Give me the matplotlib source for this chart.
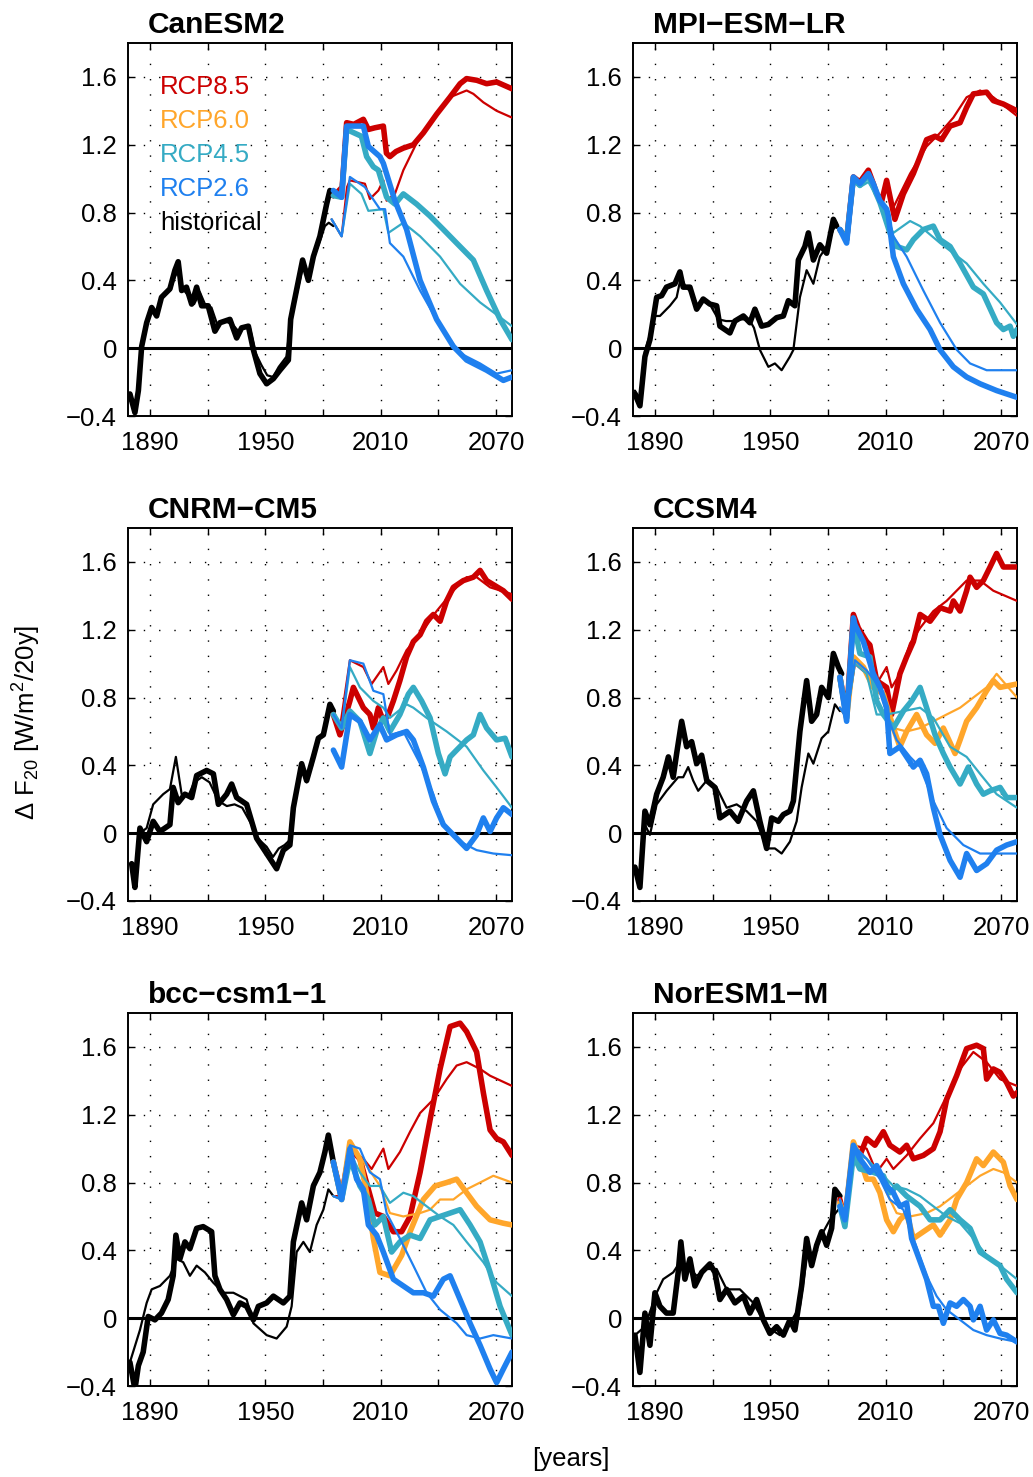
import matplotlib
matplotlib.use('Agg')
import matplotlib.pyplot as plt

plt.rcParams['font.family'] = ['Liberation Sans', 'DejaVu Sans']
plt.rcParams['mathtext.fontset'] = 'custom'
plt.rcParams['mathtext.rm'] = 'Liberation Sans'
plt.rcParams['mathtext.it'] = 'Liberation Sans:italic'
plt.rcParams['axes.unicode_minus'] = True

# ---------------- labels / styles ----------------
MODEL_NAMES = ['CanESM2', 'MPI\u2212ESM\u2212LR', 'CNRM\u2212CM5', 'CCSM4',
               'bcc\u2212csm1\u22121', 'NorESM1\u2212M']
SCENARIOS = ['RCP8.5', 'RCP6.0', 'RCP4.5', 'RCP2.6']
LEGEND_LABELS = ['RCP8.5', 'RCP6.0', 'RCP4.5', 'RCP2.6', 'historical']
COLORS = {'RCP8.5': '#CC0000', 'RCP6.0': '#FFA62B', 'RCP4.5': '#35ABC4',
          'RCP2.6': '#1F80EF', 'historical': '#000000'}
XTICKS = [1890, 1920, 1950, 1980, 2010, 2040, 2070]
XTICK_LABELS = ['1890', '', '1950', '', '2010', '', '2070']
YTICKS = [-0.4, 0.0, 0.4, 0.8, 1.2, 1.6]
YTICK_LABELS = ['\u22120.4', '0', '0.4', '0.8', '1.2', '1.6']

# ---------------- CanESM2 ----------------
CAN_HIST_THICK = [(1879.6,-0.27),(1882.2,-0.38),(1884,-0.25),(1885.7,0.01),(1888.3,0.15),(1890.9,0.24),
    (1893.5,0.19),(1896,0.30),(1900.4,0.35),(1903,0.46),(1904.7,0.51),(1906.5,0.34),(1909,0.36),
    (1911.7,0.26),(1914.3,0.36),(1916.9,0.25),(1920.3,0.25),(1923.8,0.10),(1926.4,0.15),(1931.6,0.17),
    (1935.1,0.06),(1937.7,0.12),(1941.2,0.13),(1943.8,-0.01),(1947.2,-0.15),(1950.7,-0.21),(1954.2,-0.18),
    (1957.6,-0.13),(1962,-0.07),(1963.2,0.17),(1964.6,0.25),(1969.4,0.52),(1972.4,0.40),(1975,0.54),
    (1978.4,0.66),(1981.9,0.85),(1983.6,0.93),(1985.4,0.90)]
CAN_HIST_THIN = [(1879.6,-0.30),(1882.2,-0.36),(1884,-0.22),(1886,0.02),(1888.5,0.16),(1891,0.22),
    (1894,0.22),(1897,0.32),(1900.5,0.34),(1903,0.42),(1905,0.47),(1907,0.35),(1910,0.31),(1913,0.26),
    (1916,0.33),(1919,0.25),(1922,0.24),(1925,0.14),(1929,0.16),(1933,0.14),(1936,0.10),(1939,0.13),
    (1942,0.12),(1945,-0.03),(1948,-0.10),(1951,-0.16),(1954,-0.17),(1957,-0.11),(1961,-0.05),
    (1963.5,0.20),(1966,0.30),(1969.5,0.48),(1972,0.42),(1975,0.53),(1978,0.62),(1981,0.72),(1983,0.74),
    (1985.4,0.72)]
CAN_85_THICK = [(1985.4,0.90),(1987.5,0.92),(1990,0.95),(1992.3,1.33),(1996,1.32),(2001,1.35),(2003.6,1.29),
    (2007,1.30),(2011.4,1.31),(2013,1.15),(2014.8,1.13),(2018,1.16),(2021.8,1.18),(2027,1.20),(2032.2,1.27),
    (2039.1,1.38),(2046,1.48),(2051.3,1.56),(2054.7,1.59),(2060,1.58),(2065.1,1.56),(2070.3,1.57),(2078.3,1.53)]
CAN_85_THIN = [(1984.5,0.76),(1989.7,0.66),(1992.5,0.95),(1994,0.99),(2001.8,0.97),(2004.4,0.88),(2008.8,0.93),
    (2011.4,0.99),(2013.1,0.87),(2017.4,0.91),(2021.8,1.05),(2028.7,1.21),(2037.4,1.36),(2046,1.48),
    (2054.7,1.52),(2058.2,1.50),(2063.4,1.45),(2070.3,1.40),(2078.3,1.36)]
CAN_45_THICK = [(1985.4,0.90),(1989.7,0.89),(1992.3,1.29),(2000,1.25),(2002.7,1.13),(2006.2,1.07),(2008.8,1.05),
    (2013.1,0.89),(2017.4,0.85),(2021.8,0.91),(2028.7,0.85),(2035.6,0.78),(2042.6,0.70),(2049.5,0.62),
    (2058.2,0.52),(2065.1,0.34),(2072.1,0.17),(2078.3,0.05)]
CAN_45_THIN = [(1984.5,0.76),(1989.7,0.66),(1994,0.97),(2000,0.91),(2003.6,0.81),(2011.4,0.82),(2014,0.68),
    (2021.8,0.74),(2030.5,0.66),(2040.9,0.54),(2051.3,0.38),(2061.7,0.27),(2078.3,0.13)]
CAN_26_THICK = [(1985.4,0.93),(1989.7,0.89),(1992.3,1.31),(2001,1.31),(2003.6,1.19),(2009.6,1.13),(2011.4,1.09),
    (2017.4,0.87),(2023.5,0.70),(2030.5,0.40),(2039.1,0.17),(2047.8,0.01),(2054.7,-0.07),(2065.1,-0.13),
    (2073.8,-0.19),(2078.3,-0.17)]
CAN_26_THIN = [(1984.5,0.76),(1989.7,0.66),(1994,1.01),(2001.8,0.95),(2009.6,0.82),(2012.3,0.82),(2014.8,0.62),
    (2021.8,0.54),(2030.5,0.34),(2040.9,0.13),(2051.3,-0.03),(2061.7,-0.09),(2070.3,-0.15),(2078.3,-0.13)]

# ---------------- MPI-ESM-LR ----------------
MPI_HIST_THICK = [(1879.6,-0.27),(1882.2,-0.34),(1884.8,-0.05),(1887.4,0.05),(1890.9,0.30),(1893.5,0.31),
    (1896,0.36),(1900.4,0.38),(1903,0.45),(1904.7,0.36),(1908.2,0.36),(1911.7,0.23),(1915.1,0.29),
    (1918.6,0.26),(1922.1,0.25),(1923.8,0.13),(1929,0.09),(1931.6,0.16),(1936,0.19),(1939.4,0.15),
    (1942,0.23),(1945.5,0.13),(1949,0.14),(1953.3,0.18),(1956.8,0.19),(1959.4,0.28),(1962.8,0.25),
    (1964.6,0.52),(1968,0.60),(1969.8,0.68),(1972.4,0.52),(1975.8,0.61),(1979.3,0.56),(1982.8,0.76),
    (1984.5,0.72)]
MPI_HIST_THIN = [(1879.6,-0.25),(1882.2,-0.30),(1884.8,-0.02),(1887.4,0.08),(1890,0.19),(1892.6,0.19),
    (1897.8,0.25),(1901.3,0.30),(1903.5,0.42),(1906,0.36),(1909,0.33),(1912,0.25),(1915,0.28),(1919,0.25),
    (1923,0.17),(1927,0.16),(1931,0.16),(1935,0.17),(1939,0.17),(1941.5,0.12),(1944.6,-0.01),(1949,-0.11),
    (1952.4,-0.09),(1955.9,-0.13),(1960.2,-0.05),(1962,-0.01),(1965.4,0.30),(1968.9,0.46),(1972.4,0.38),
    (1975.8,0.54),(1979.3,0.60),(1982.8,0.70),(1984.5,0.74)]
MPI_85_THICK = [(1986.2,0.70),(1989.7,0.64),(1993.2,1.01),(1996.6,0.98),(2001,1.05),(2003.6,0.97),(2005.3,0.91),
    (2008,0.87),(2010.5,0.99),(2012.5,0.88),(2014.8,0.76),(2019.2,0.91),(2024.4,1.03),(2027.9,1.13),
    (2031.3,1.23),(2035.7,1.25),(2039.1,1.23),(2043.5,1.31),(2048.7,1.33),(2052.1,1.42),(2055.6,1.50),
    (2062.5,1.51),(2066,1.46),(2071.2,1.44),(2078.3,1.40)]
MPI_85_THIN = [(1986.2,0.70),(1989.7,0.64),(1993.2,1.01),(1996.6,0.97),(2001,1.04),(2003.6,0.98),(2007,0.88),
    (2010.5,0.95),(2014,0.83),(2022.7,1.03),(2031.3,1.19),(2038.3,1.27),(2045.2,1.36),(2052.1,1.48),
    (2059.1,1.52),(2066,1.48),(2078.3,1.37)]
MPI_45_THICK = [(1986.2,0.70),(1989.7,0.64),(1993.2,1.00),(1996.6,0.96),(2001,1.02),(2003.6,0.95),(2007,0.86),
    (2008.8,0.80),(2012.2,0.68),(2015.7,0.60),(2020.9,0.58),(2024.4,0.64),(2029.6,0.70),(2034.8,0.72),
    (2038.3,0.64),(2043.5,0.60),(2048.7,0.50),(2055.6,0.36),(2060.8,0.32),(2067.7,0.15),(2071.2,0.11),
    (2074.7,0.13),(2076.4,0.07),(2078.3,0.11)]
MPI_45_THIN = [(1986.2,0.70),(1989.7,0.64),(1993.2,0.98),(1996.6,0.95),(2001,0.98),(2003.6,0.93),(2007,0.86),
    (2008.8,0.80),(2014,0.68),(2022.7,0.75),(2027.9,0.72),(2038.3,0.62),(2052.1,0.50),(2060.8,0.38),
    (2069.5,0.27),(2078.3,0.14)]
MPI_26_THICK = [(1986.2,0.70),(1989.7,0.62),(1993.2,1.01),(1996.6,0.97),(2001,1.03),(2003.6,0.97),(2007,0.87),
    (2010.5,0.82),(2011.4,0.78),(2014,0.54),(2019.2,0.38),(2026.1,0.23),(2033.1,0.11),(2038.3,-0.01),
    (2045.2,-0.11),(2052.1,-0.17),(2059.1,-0.21),(2067.7,-0.25),(2078.3,-0.29)]
MPI_26_THIN = [(1986.2,0.70),(1989.7,0.64),(1993.2,1.01),(1996.6,0.97),(2001,1.03),(2003.6,0.97),(2007,0.87),
    (2010.5,0.82),(2014,0.66),(2020.9,0.54),(2029.6,0.34),(2038.3,0.15),(2047,-0.01),(2053.9,-0.09),
    (2062.5,-0.13),(2078.3,-0.13)]

# ---------------- CNRM-CM5 ----------------
CNRM_HIST_THICK = [(1880.5,-0.18),(1882.2,-0.32),(1884.8,0.03),(1888.3,-0.05),(1891.7,0.07),(1895.2,0.01),
    (1900.4,0.05),(1902.1,0.27),(1904.7,0.18),(1908.2,0.23),(1911.7,0.21),(1914.3,0.34),(1919.5,0.37),
    (1923,0.35),(1925.6,0.17),(1929.9,0.23),(1932.5,0.29),(1935.1,0.21),(1940.3,0.17),(1942.9,0.07),
    (1945.5,-0.03),(1950.7,-0.12),(1955.9,-0.21),(1959.4,-0.10),(1962.8,-0.07),(1964.6,0.15),(1968.9,0.41),
    (1971.5,0.31),(1975,0.45),(1977.6,0.56),(1980.2,0.58),(1983.6,0.76),(1985.4,0.72)]
CNRM_HIST_THIN = [(1880.5,-0.20),(1882.2,-0.28),(1884.8,0.00),(1888.3,0.03),(1891.7,0.17),(1896.9,0.23),
    (1900.4,0.26),(1903.5,0.45),(1906.5,0.23),(1910,0.22),(1913,0.30),(1917,0.33),(1921,0.30),(1925.6,0.19),
    (1930,0.16),(1934,0.17),(1938,0.15),(1942.9,0.05),(1946,-0.03),(1950.7,-0.08),(1954,-0.14),(1957,-0.09),
    (1960,-0.07),(1962.8,-0.04),(1964.6,0.18),(1968.9,0.38),(1971.5,0.30),(1975,0.47),(1977.6,0.55),
    (1980.2,0.60),(1983.6,0.74),(1985.4,0.70)]
CNRM_85_THICK = [(1985.4,0.70),(1988.8,0.58),(1994,0.78),(1995.8,0.86),(2001,0.74),(2004.4,0.70),(2006.2,0.62),
    (2008.8,0.74),(2011.4,0.66),(2014,0.70),(2016.6,0.78),(2020,0.90),(2023.5,1.04),(2027,1.13),(2030.5,1.17),
    (2033.9,1.25),(2037.4,1.29),(2040.9,1.25),(2044.3,1.37),(2047.8,1.45),(2053,1.49),(2058.2,1.51),
    (2061.7,1.55),(2065.1,1.49),(2073.8,1.43),(2078.3,1.38)]
CNRM_85_THIN = [(1985.4,0.70),(1988.8,0.62),(1994,1.02),(2001,0.98),(2005.3,0.88),(2011.4,0.98),(2014,0.88),
    (2018.3,0.96),(2023.5,1.08),(2030.5,1.17),(2039.1,1.31),(2047.8,1.43),(2054.7,1.51),(2059.9,1.51),
    (2066.9,1.45),(2078.3,1.41)]
CNRM_45_THICK = [(1985.4,0.70),(1989.7,0.62),(1994,0.72),(1999.2,0.66),(2004.4,0.47),(2007.9,0.60),(2011.4,0.68),
    (2014.8,0.60),(2020,0.70),(2024.4,0.82),(2027,0.86),(2031.3,0.78),(2035.7,0.68),(2040,0.47),(2043.5,0.35),
    (2046.1,0.45),(2049.5,0.49),(2054.7,0.55),(2058.2,0.58),(2061.7,0.70),(2065.1,0.62),(2070.3,0.55),
    (2074.7,0.56),(2078.3,0.45)]
CNRM_45_THIN = [(1985.4,0.70),(1989.7,0.62),(1994,0.98),(1999.2,0.86),(2006.2,0.78),(2011.4,0.74),(2014.8,0.68),
    (2023.5,0.76),(2027,0.74),(2033.9,0.68),(2044.3,0.60),(2054.7,0.51),(2063.4,0.37),(2070.3,0.27),
    (2078.3,0.15)]
CNRM_26_THICK = [(1985.4,0.49),(1989.7,0.39),(1994,0.70),(1999.2,0.66),(2004.4,0.55),(2009.6,0.64),(2013.1,0.55),
    (2018.3,0.58),(2023.5,0.60),(2027,0.55),(2032.2,0.39),(2037.4,0.19),(2042.6,0.05),(2049.5,-0.03),
    (2054.7,-0.09),(2059.9,-0.01),(2063.4,0.09),(2066.9,0.01),(2070.3,0.09),(2073.8,0.15),(2078.3,0.11)]
CNRM_26_THIN = [(1985.4,0.70),(1989.7,0.62),(1994,1.02),(2001,1.00),(2006.2,0.84),(2011.4,0.82),(2014.8,0.58),
    (2021.8,0.60),(2030.5,0.41),(2037.4,0.23),(2042.6,0.05),(2051.3,-0.05),(2059.9,-0.10),(2068.6,-0.12),
    (2078.3,-0.13)]

# ---------------- CCSM4 ----------------
CCSM_HIST_THICK = [(1879.6,-0.20),(1882.2,-0.32),(1884.8,0.13),(1887.4,0.05),(1890.9,0.23),(1894.3,0.33),
    (1897,0.45),(1899.5,0.33),(1901.3,0.47),(1903.9,0.66),(1906.5,0.51),(1909.1,0.54),(1911.7,0.41),
    (1914.3,0.46),(1917,0.31),(1921.2,0.27),(1923.8,0.09),(1929,0.13),(1933.3,0.07),(1937.7,0.19),
    (1941.2,0.25),(1944.6,0.07),(1948.1,-0.09),(1950.7,0.09),(1954.2,0.07),(1956.8,0.11),(1960.2,0.13),
    (1962,0.19),(1965.4,0.60),(1968.9,0.90),(1971.5,0.66),(1974.1,0.70),(1976.7,0.86),(1980.2,0.80),
    (1982.8,1.06),(1985.4,0.98),(1987.1,0.94)]
CCSM_HIST_THIN = [(1879.6,-0.20),(1882.2,-0.30),(1884.8,0.05),(1887.4,-0.01),(1890.9,0.17),(1896.1,0.25),
    (1902.1,0.33),(1904.7,0.33),(1907.3,0.39),(1909.9,0.31),(1912.5,0.25),(1916.9,0.31),(1922.1,0.27),
    (1927.3,0.15),(1932.5,0.17),(1937.7,0.13),(1942.9,0.07),(1948.1,-0.09),(1952.4,-0.09),(1955.9,-0.12),
    (1960.2,-0.05),(1963.7,0.07),(1966.3,0.27),(1969.8,0.47),(1972.4,0.41),(1976.7,0.56),(1980.2,0.60),
    (1983.6,0.76),(1986.2,0.72)]
CCSM_85_THICK = [(1986.2,0.92),(1989.7,0.70),(1993.2,1.29),(1995.8,1.21),(2000.1,1.13),(2001.8,1.11),(2005.3,0.90),
    (2010.5,0.86),(2013.1,0.70),(2017.4,0.94),(2020.9,1.04),(2024.4,1.13),(2027.9,1.29),(2033.1,1.25),
    (2038.3,1.33),(2043.5,1.31),(2045.2,1.37),(2048.7,1.31),(2052.1,1.43),(2053.9,1.51),(2057.3,1.45),
    (2060.8,1.49),(2064.3,1.57),(2067.7,1.65),(2071.2,1.57),(2078.3,1.57)]
CCSM_85_THIN = [(1986.2,0.74),(1989.7,0.68),(1994,1.00),(2000.1,0.94),(2005.3,0.88),(2010.5,0.98),(2013.1,0.86),
    (2017.4,0.94),(2022.7,1.12),(2027.9,1.21),(2034.8,1.31),(2041.7,1.37),(2052.1,1.49),(2059.1,1.49),
    (2066,1.43),(2078.3,1.37)]
CCSM_60_THICK = [(1986.2,0.92),(1989.7,0.68),(1993.2,1.04),(1998.4,0.98),(2003.6,0.86),(2008.8,0.82),(2014,0.62),
    (2017.4,0.51),(2020.9,0.60),(2026.1,0.70),(2031.3,0.58),(2035.7,0.53),(2040,0.62),(2046.1,0.47),
    (2048.7,0.55),(2052.1,0.66),(2057.3,0.74),(2062.5,0.84),(2066,0.90),(2069.5,0.86),(2078.3,0.88)]
CCSM_60_THIN = [(1986.2,0.74),(1989.7,0.68),(1994,1.04),(2000.1,0.94),(2008.8,0.82),(2014,0.62),(2020.9,0.60),
    (2027.9,0.62),(2034.8,0.66),(2041.7,0.70),(2048.7,0.74),(2055.6,0.80),(2062.5,0.86),(2067.7,0.94),
    (2078.3,0.80)]
CCSM_45_THICK = [(1986.2,0.92),(1989.7,0.68),(1993.2,1.25),(1996.6,1.06),(2001.8,1.04),(2005.3,0.78),(2008.8,0.70),
    (2014,0.62),(2019.2,0.72),(2023.5,0.78),(2027.9,0.86),(2031.3,0.74),(2035.7,0.58),(2040,0.47),(2043.5,0.39),
    (2048.7,0.29),(2053,0.39),(2057.3,0.29),(2060.8,0.23),(2064.3,0.25),(2069.5,0.27),(2072.9,0.21),
    (2078.3,0.21)]
CCSM_45_THIN = [(1986.2,0.74),(1989.7,0.68),(1994,1.00),(2000.1,0.94),(2005.3,0.70),(2010.5,0.70),(2019.2,0.72),
    (2027.9,0.74),(2034.8,0.68),(2043.5,0.51),(2052.1,0.45),(2059.1,0.35),(2067.7,0.23),(2078.3,0.15)]
CCSM_26_THICK = [(1986.2,0.92),(1989.7,0.66),(1993.2,1.27),(1994,1.23),(1998.4,1.13),(2003.6,0.94),(2007,0.86),
    (2010.5,0.74),(2012.2,0.47),(2017.4,0.51),(2020.9,0.45),(2024.4,0.39),(2027.9,0.43),(2031.3,0.35),
    (2034.8,0.15),(2038.3,-0.01),(2043.5,-0.16),(2048.7,-0.26),(2052.1,-0.12),(2057.3,-0.22),(2062.5,-0.18),
    (2067.7,-0.10),(2072.9,-0.07),(2078.3,-0.05)]
CCSM_26_THIN = [(1986.2,0.74),(1989.7,0.68),(1994,1.02),(2000.1,0.96),(2007,0.86),(2010.5,0.70),(2015.7,0.55),
    (2022.7,0.45),(2027.9,0.39),(2034.8,0.19),(2041.7,0.03),(2050.4,-0.07),(2059.1,-0.12),(2067.7,-0.12),
    (2078.3,-0.12)]

# ---------------- bcc-csm1-1 ----------------
BCC_HIST_THICK = [(1879.6,-0.26),(1882.2,-0.42),(1884,-0.28),(1886.5,-0.20),(1889.1,0.01),(1892.6,-0.01),
    (1896,0.03),(1899.5,0.11),(1902.1,0.25),(1903.5,0.49),(1905.6,0.35),(1908.2,0.45),(1910.8,0.41),
    (1914.3,0.53),(1917.7,0.54),(1922.1,0.51),(1923.8,0.25),(1926.4,0.17),(1929.9,0.11),(1933.4,0.02),
    (1936.8,0.09),(1940.3,0.07),(1943.8,-0.01),(1946.4,0.07),(1950.7,0.09),(1954.2,0.13),(1959.4,0.09),
    (1962.8,0.13),(1964.6,0.45),(1968.9,0.68),(1971.5,0.58),(1975,0.78),(1978.4,0.86),(1981,0.98),
    (1982.8,1.08),(1985.4,0.92)]
BCC_HIST_THIN = [(1879.6,-0.26),(1884.8,-0.07),(1888.3,0.09),(1890.9,0.17),(1895.2,0.19),(1900.4,0.25),
    (1903.9,0.35),(1907.3,0.33),(1910.8,0.25),(1914.3,0.31),(1918.6,0.27),(1922.9,0.21),(1928.1,0.15),
    (1933.4,0.15),(1940.3,0.11),(1943.8,-0.03),(1950.7,-0.10),(1955.9,-0.12),(1961.1,-0.05),(1963.7,0.07),
    (1966.3,0.39),(1969.8,0.45),(1973.2,0.39),(1976.7,0.55),(1980.2,0.64),(1982.8,0.76),(1985.4,0.72)]
BCC_85_THICK = [(1985.4,0.92),(1989.7,0.72),(1994,1.00),(1999.2,0.94),(2003.6,0.76),(2007,0.62),(2011.4,0.60),
    (2016.6,0.51),(2020.9,0.51),(2025.3,0.60),(2030.5,0.86),(2035.7,1.17),(2040.9,1.47),(2046.1,1.72),
    (2051.3,1.74),(2054.7,1.69),(2059.9,1.57),(2063.4,1.33),(2066.9,1.11),(2070.3,1.06),(2073.8,1.04),
    (2078.3,0.96)]
BCC_85_THIN = [(1985.4,0.72),(1989.7,0.72),(1994,1.00),(2001,0.94),(2005.3,0.88),(2011.4,1.00),(2014,0.88),
    (2020,0.98),(2025.3,1.10),(2030.5,1.21),(2037.4,1.29),(2044.3,1.41),(2049.5,1.49),(2054.7,1.51),
    (2061.7,1.47),(2066.9,1.43),(2078.3,1.37)]
BCC_60_THICK = [(1985.4,0.92),(1989.7,0.70),(1994,1.04),(1999.2,0.94),(2002.7,0.74),(2006.2,0.47),(2009.6,0.27),
    (2014.8,0.25),(2020.9,0.37),(2025.3,0.51),(2032.2,0.70),(2038.3,0.78),(2044.3,0.80),(2049.5,0.82),
    (2054.7,0.74),(2059.9,0.66),(2066.9,0.58),(2073.8,0.56),(2078.3,0.55)]
BCC_60_THIN = [(1985.4,0.72),(1989.7,0.70),(1994,1.02),(2002.7,0.90),(2009.6,0.78),(2014.8,0.62),(2021.8,0.60),
    (2030.5,0.62),(2035.7,0.64),(2040.9,0.70),(2047.8,0.70),(2054.7,0.76),(2061.7,0.80),(2068.6,0.84),
    (2078.3,0.80)]
BCC_45_THICK = [(1985.4,0.92),(1989.7,0.70),(1994,0.94),(1999.2,0.78),(2003.6,0.70),(2007,0.55),(2011.4,0.60),
    (2015.7,0.39),(2020,0.45),(2025.3,0.49),(2030.5,0.47),(2035.7,0.58),(2040.9,0.60),(2046.1,0.62),
    (2051.3,0.64),(2056.5,0.55),(2061.7,0.45),(2066.9,0.27),(2072.1,0.07),(2078.3,-0.10)]
BCC_45_THIN = [(1985.4,0.72),(1989.7,0.70),(1994,0.98),(1999.2,0.86),(2004.4,0.78),(2009.6,0.78),(2014.8,0.68),
    (2021.8,0.74),(2027,0.72),(2033.9,0.66),(2040.9,0.60),(2047.8,0.55),(2054.7,0.45),(2063.4,0.33),
    (2070.3,0.21),(2078.3,0.13)]
BCC_26_THICK = [(1985.4,0.92),(1989.7,0.70),(1994,1.00),(1997.5,0.82),(2001,0.76),(2003.6,0.55),(2007.9,0.49),
    (2011.4,0.39),(2016.6,0.23),(2021.8,0.19),(2027,0.15),(2032.2,0.15),(2037.4,0.13),(2042.6,0.23),
    (2046.1,0.25),(2051.3,0.11),(2056.5,-0.03),(2061.7,-0.16),(2066.9,-0.30),(2070.3,-0.38),(2073.8,-0.30),
    (2078.3,-0.20)]
BCC_26_THIN = [(1985.4,0.72),(1989.7,0.70),(1994,1.02),(1999.2,1.00),(2004.4,0.86),(2009.6,0.82),(2013.1,0.62),
    (2020,0.47),(2027,0.31),(2033.9,0.15),(2040.9,0.05),(2049.5,-0.03),(2054.7,-0.10),(2061.7,-0.12),
    (2068.6,-0.10),(2078.3,-0.12)]

# ---------------- NorESM1-M ----------------
NOR_HIST_THICK = [(1879.6,-0.10),(1882.2,-0.32),(1884.8,0.03),(1887.4,-0.16),(1890,0.15),(1892.6,0.07),
    (1896,0.03),(1899.5,0.03),(1902.1,0.27),(1903.5,0.45),(1905.6,0.23),(1908.2,0.35),(1910.8,0.19),
    (1914.3,0.27),(1918.6,0.32),(1921.2,0.27),(1923.8,0.11),(1927.3,0.17),(1931.6,0.09),(1936,0.13),
    (1939.4,0.03),(1942.9,0.11),(1946.4,-0.01),(1949.8,-0.09),(1953.3,-0.05),(1956.8,-0.10),(1960.2,-0.01),
    (1962.8,-0.07),(1966.3,0.19),(1968.9,0.47),(1971.5,0.31),(1974.1,0.43),(1976.7,0.51),(1979.3,0.43),
    (1981.9,0.53),(1983.6,0.76),(1986.2,0.72)]
NOR_HIST_THIN = [(1879.6,-0.10),(1884.8,-0.05),(1890.9,0.15),(1894.3,0.23),(1899.5,0.27),(1903,0.33),
    (1906.5,0.31),(1911.7,0.25),(1916.9,0.29),(1922.1,0.29),(1927.3,0.17),(1934.2,0.17),(1941.2,0.09),
    (1948.1,-0.05),(1955,-0.10),(1960.2,-0.03),(1965.4,0.07),(1968.9,0.35),(1972.4,0.39),(1977.6,0.51),
    (1981,0.58),(1985.4,0.64)]
NOR_85_THICK = [(1986.2,0.70),(1988.8,0.58),(1993.2,1.00),(1996.6,0.96),(2000.1,1.06),(2004.4,1.02),(2008.8,1.10),
    (2012.2,1.02),(2017.4,0.98),(2020.9,1.02),(2024.4,0.94),(2029.6,0.96),(2034.8,1.00),(2038.3,1.10),
    (2041.7,1.29),(2046.9,1.43),(2052.1,1.59),(2057.3,1.61),(2060.8,1.59),(2062.5,1.41),(2066,1.47),
    (2069.5,1.45),(2072.9,1.39),(2076.4,1.31),(2078.3,1.33)]
NOR_85_THIN = [(1986.2,0.70),(1988.8,0.60),(1993.2,1.02),(2000.1,1.00),(2005.3,0.86),(2010.5,0.94),(2014,0.88),
    (2020.9,0.96),(2027.9,1.06),(2034.8,1.15),(2041.7,1.31),(2048.7,1.47),(2055.6,1.57),(2062.5,1.51),
    (2069.5,1.41),(2078.3,1.37)]
NOR_60_THICK = [(1986.2,0.68),(1988.8,0.58),(1993.2,1.04),(1996.6,0.94),(2000.1,0.82),(2003.6,0.82),(2007,0.74),
    (2010.5,0.58),(2014,0.51),(2017.4,0.58),(2020.9,0.62),(2024.4,0.47),(2029.6,0.51),(2034.8,0.55),
    (2038.3,0.49),(2043.5,0.58),(2046.9,0.70),(2052.1,0.80),(2057.3,0.94),(2060.8,0.90),(2066,0.98),
    (2071.2,0.92),(2074.7,0.78),(2078.3,0.70)]
NOR_60_THIN = [(1986.2,0.70),(1988.8,0.60),(1993.2,1.02),(2000.1,0.94),(2007,0.84),(2010.5,0.74),(2015.7,0.62),
    (2022.7,0.60),(2031.3,0.62),(2038.3,0.66),(2045.2,0.72),(2052.1,0.78),(2059.1,0.84),(2066,0.88),
    (2071.2,0.86),(2078.3,0.80)]
NOR_45_THICK = [(1986.2,0.66),(1988.8,0.54),(1993.2,0.96),(1996.6,0.88),(2003.6,0.86),(2008.8,0.84),(2012.2,0.74),
    (2015.7,0.78),(2020.9,0.72),(2027.9,0.66),(2033.1,0.58),(2038.3,0.58),(2043.5,0.64),(2048.7,0.58),
    (2053.9,0.53),(2059.1,0.39),(2064.3,0.35),(2069.5,0.31),(2072.9,0.23),(2078.3,0.15)]
NOR_45_THIN = [(1986.2,0.70),(1988.8,0.60),(1993.2,0.98),(2000.1,0.94),(2007,0.86),(2014,0.78),(2020.9,0.76),
    (2027.9,0.72),(2034.8,0.66),(2041.7,0.60),(2048.7,0.56),(2055.6,0.47),(2062.5,0.37),(2069.5,0.31),
    (2078.3,0.23)]
NOR_26_THICK = [(1986.2,0.66),(1988.8,0.58),(1993.2,1.02),(1996.6,0.94),(2001.8,0.86),(2005.3,0.90),(2010.5,0.78),
    (2014,0.74),(2017.4,0.66),(2020.9,0.68),(2023.5,0.47),(2026.1,0.39),(2031.3,0.23),(2034.8,0.07),
    (2037.4,0.07),(2040,-0.03),(2043.5,0.09),(2046.9,0.07),(2050.4,0.11),(2053.9,0.07),(2055.6,-0.01),
    (2059.1,0.07),(2062.5,-0.07),(2066,-0.01),(2069.5,-0.09),(2072.9,-0.10),(2078.3,-0.14)]
NOR_26_THIN = [(1986.2,0.70),(1988.8,0.60),(1993.2,1.02),(2000.1,0.94),(2007,0.82),(2012.2,0.70),(2019.2,0.64),
    (2024.4,0.47),(2031.3,0.25),(2036.5,0.13),(2041.7,0.05),(2048.7,-0.01),(2055.6,-0.07),(2062.5,-0.10),
    (2069.5,-0.12),(2078.3,-0.14)]

# table built from the named lists
PANELS = [
    (CAN_HIST_THICK, CAN_HIST_THIN, {'RCP8.5': (CAN_85_THICK, CAN_85_THIN),
                                     'RCP4.5': (CAN_45_THICK, CAN_45_THIN),
                                     'RCP2.6': (CAN_26_THICK, CAN_26_THIN)}),
    (MPI_HIST_THICK, MPI_HIST_THIN, {'RCP8.5': (MPI_85_THICK, MPI_85_THIN),
                                     'RCP4.5': (MPI_45_THICK, MPI_45_THIN),
                                     'RCP2.6': (MPI_26_THICK, MPI_26_THIN)}),
    (CNRM_HIST_THICK, CNRM_HIST_THIN, {'RCP8.5': (CNRM_85_THICK, CNRM_85_THIN),
                                       'RCP4.5': (CNRM_45_THICK, CNRM_45_THIN),
                                       'RCP2.6': (CNRM_26_THICK, CNRM_26_THIN)}),
    (CCSM_HIST_THICK, CCSM_HIST_THIN, {'RCP8.5': (CCSM_85_THICK, CCSM_85_THIN),
                                       'RCP6.0': (CCSM_60_THICK, CCSM_60_THIN),
                                       'RCP4.5': (CCSM_45_THICK, CCSM_45_THIN),
                                       'RCP2.6': (CCSM_26_THICK, CCSM_26_THIN)}),
    (BCC_HIST_THICK, BCC_HIST_THIN, {'RCP8.5': (BCC_85_THICK, BCC_85_THIN),
                                     'RCP6.0': (BCC_60_THICK, BCC_60_THIN),
                                     'RCP4.5': (BCC_45_THICK, BCC_45_THIN),
                                     'RCP2.6': (BCC_26_THICK, BCC_26_THIN)}),
    (NOR_HIST_THICK, NOR_HIST_THIN, {'RCP8.5': (NOR_85_THICK, NOR_85_THIN),
                                     'RCP6.0': (NOR_60_THICK, NOR_60_THIN),
                                     'RCP4.5': (NOR_45_THICK, NOR_45_THIN),
                                     'RCP2.6': (NOR_26_THICK, NOR_26_THIN)}),
]

W, H = 1033, 1477
fig = plt.figure(figsize=(W / 100, H / 100), dpi=100)

COL_LEFT = [128, 633]
ROW_TOP = [43, 528, 1013]
AX_W, AX_H = 384, 373

TICK_FS = 18.5
THICK_LW = 4.0
THIN_LW = 1.6


def draw(ax, pairs, color, lw, z):
    xs = [p[0] for p in pairs]
    ys = [p[1] for p in pairs]
    ax.plot(xs, ys, color=color, lw=lw, zorder=z, solid_joinstyle='round',
            solid_capstyle='round')


for i, (name, (h_thick, h_thin, scen)) in enumerate(zip(MODEL_NAMES, PANELS)):
    r, c = divmod(i, 2)
    left = COL_LEFT[c] / W
    bottom = 1 - (ROW_TOP[r] + AX_H) / H
    ax = fig.add_axes([left, bottom, AX_W / W, AX_H / H])
    ax.set_xlim(1878.6, 2078.3)
    ax.set_ylim(-0.4, 1.8)

    ax.grid(True, color='black', lw=1.0, ls=(0, (1, 10)), zorder=0)
    ax.axhline(0, color='black', lw=2.2, zorder=1.5)

    draw(ax, h_thick, COLORS['historical'], THICK_LW, 2)
    draw(ax, h_thin, COLORS['historical'], THIN_LW, 2)
    for k, s in enumerate(SCENARIOS):
        if s in scen:
            thick, thin = scen[s]
            draw(ax, thick, COLORS[s], THICK_LW, 3 + k)
            draw(ax, thin, COLORS[s], THIN_LW, 3 + k)

    ax.set_xticks(XTICKS)
    ax.set_xticklabels(XTICK_LABELS)
    ax.set_yticks(YTICKS)
    ax.set_yticklabels(YTICK_LABELS)
    ax.tick_params(direction='in', length=5, width=1.0, top=True, right=True,
                   labelsize=TICK_FS)
    ax.tick_params(axis='x', pad=11)
    ax.tick_params(axis='y', pad=8)
    for sp in ax.spines.values():
        sp.set_linewidth(1.4)

    ax.text(20 / AX_W, 1.012, name, transform=ax.transAxes, ha='left', va='bottom',
            fontsize=21.5, fontweight='bold')

    if i == 0:
        for j, lab in enumerate(LEGEND_LABELS):
            ypix = 87 + 34 * j
            ax.text(32 / AX_W, 1 - (ypix - 43) / AX_H, lab, transform=ax.transAxes,
                    ha='left', va='center', fontsize=18.5, color=COLORS[lab], zorder=10)

fig.text(27 / W, 1 - 722 / H, 'Δ F$\\mathregular{_{20}}$ [W/m$\\mathregular{^2}$/20y]',
         rotation=90, ha='center', va='center', fontsize=18.5)
fig.text(571 / W, 1 - 1459 / H, '[years]', ha='center', va='center', fontsize=18.5)

fig.savefig('out.png', dpi=100)
